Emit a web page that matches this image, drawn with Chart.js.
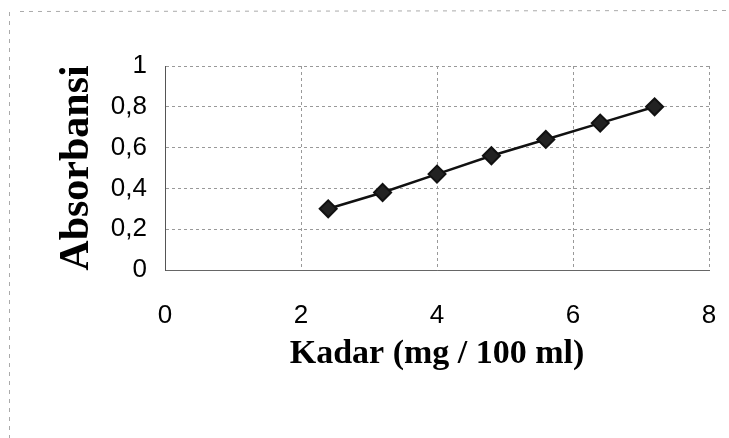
<!DOCTYPE html>
<html>
<head>
<meta charset="utf-8">
<script src="https://cdn.jsdelivr.net/npm/chart.js@4/dist/chart.umd.min.js"></script>
<style>
  html, body { margin: 0; padding: 0; background: #fff; }
  #wrap { width: 729px; height: 438px; }
</style>
</head>
<body>
<div id="wrap"><canvas id="grafico" width="729" height="438"></canvas></div>
<script>
// Datos
const kadar = [2.4, 3.2, 4.0, 4.8, 5.6, 6.4, 7.2];
const absorbansi = [0.30, 0.38, 0.47, 0.56, 0.64, 0.72, 0.80];
const ticksX = [0, 2, 4, 6, 8];
const ticksY = [0, 0.2, 0.4, 0.6, 0.8, 1];

const puntos = kadar.map((k, i) => ({ x: k, y: absorbansi[i] }));

// Borde punteado del marco escaneado (arriba e izquierda)
const marco = {
    id: 'marco',
    beforeDraw(chart) {
        const ctx = chart.ctx;
        ctx.save();
        ctx.strokeStyle = '#aaa';
        ctx.lineWidth = 1;
        ctx.setLineDash([4, 5]);
        ctx.beginPath();
        ctx.moveTo(20, 11.5);
        ctx.lineTo(729, 10.5);
        ctx.moveTo(9.5, 12);
        ctx.lineTo(9.5, 438);
        ctx.stroke();
        ctx.restore();
    }
};

const config = {
    type: 'line',
    data: {
        datasets: [{
            data: puntos,
            borderColor: '#111',
            borderWidth: 2.5,
            backgroundColor: '#222',
            pointStyle: 'rectRot',
            pointRadius: 8.5,
            pointBorderWidth: 2,
            pointBorderColor: '#111',
            tension: 0
        }]
    },
    options: {
        responsive: false,
        animation: false,
        layout: { padding: { top: 66, right: 20, left: 0, bottom: 0 } },
        plugins: {
            legend: { display: false },
            tooltip: { enabled: false }
        },
        scales: {
            x: {
                type: 'linear',
                min: 0,
                max: 8,
                afterFit: s => { s.height = 168; },
                afterBuildTicks: s => { s.ticks = ticksX.map(v => ({ value: v })); },
                ticks: {
                    padding: 4,
                    color: '#000',
                    font: { family: '"Liberation Sans", Arial', size: 26 }
                },
                grid: {
                    color: '#999',
                    lineWidth: 1,
                    drawTicks: true,
                    tickLength: 26,
                    tickColor: 'rgba(0,0,0,0)'
                },
                border: { color: '#666', dash: [3, 3] },
                title: {
                    display: true,
                    text: 'Kadar (mg / 100 ml)',
                    color: '#000',
                    padding: { top: 0, bottom: 63 },
                    font: { family: '"Liberation Serif", "Times New Roman"', size: 34, weight: 'bold' }
                }
            },
            y: {
                min: 0,
                max: 1,
                afterFit: s => { s.width = 165; },
                afterBuildTicks: s => { s.ticks = ticksY.map(v => ({ value: v })); },
                ticks: {
                    padding: 18,
                    color: '#000',
                    font: { family: '"Liberation Sans", Arial', size: 26 },
                    callback: v => Number(v.toFixed(1)).toString().replace('.', ',')
                },
                grid: {
                    color: '#999',
                    lineWidth: 1,
                    drawTicks: false
                },
                border: { color: '#555', dash: [3, 3] },
                title: {
                    display: true,
                    text: 'Absorbansi',
                    color: '#000',
                    padding: { top: 52, bottom: 0 },
                    font: { family: '"Liberation Serif", "Times New Roman"', size: 42, weight: 'bold' }
                }
            }
        }
    },
    plugins: [marco]
};

const ctx = document.getElementById('grafico').getContext('2d');
new Chart(ctx, config);
</script>
</body>
</html>
